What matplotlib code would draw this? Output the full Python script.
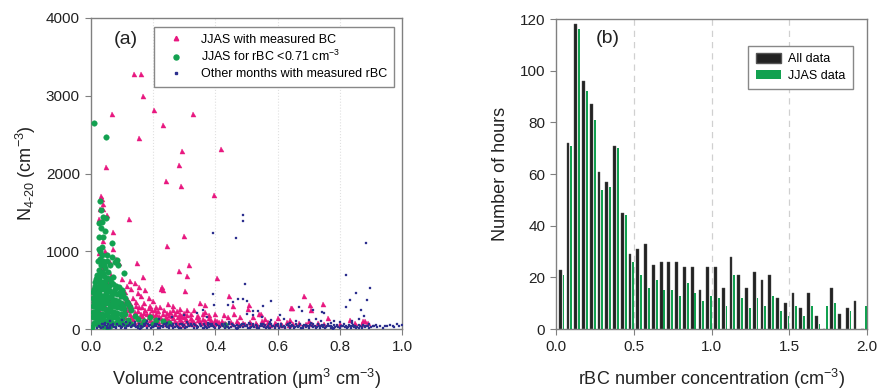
import numpy as np
import matplotlib
matplotlib.use("Agg")
import matplotlib.pyplot as plt
from matplotlib.patches import Patch
from matplotlib.lines import Line2D

plt.rcParams['font.family'] = ['Liberation Sans', 'DejaVu Sans']
plt.rcParams['mathtext.fontset'] = 'custom'
plt.rcParams['mathtext.rm'] = 'Liberation Sans'
plt.rcParams['mathtext.default'] = 'regular'

# ---- panel (a): N4-20 vs volume concentration ----
jjas_bc = [
    (0.139, 3280), (0.161, 3280), (0.166, 3000), (0.068, 2770), (0.201, 2820), (0.329, 2770),
    (0.153, 2460), (0.230, 2630), (0.293, 2290), (0.048, 2080), (0.282, 2110), (0.419, 2320),
    (0.241, 1910), (0.288, 1840), (0.394, 1730), (0.121, 1420), (0.298, 1195), (0.243, 1075),
    (0.071, 1255), (0.147, 845), (0.316, 830), (0.283, 750), (0.406, 660), (0.308, 680),
    (0.168, 665), (0.229, 545), (0.225, 520), (0.232, 500), (0.301, 485), (0.443, 430),
    (0.509, 315), (0.505, 260), (0.645, 270), (0.685, 424), (0.704, 315), (0.745, 318),
    (0.762, 142), (0.831, 120), (0.875, 100), (0.891, 75), (0.350, 335), (0.365, 305),
    (0.222, 290), (0.249, 318), (0.265, 292), (0.286, 262), (0.310, 250), (0.322, 198),
    (0.458, 300), (0.031, 1715), (0.037, 1670), (0.038, 1610), (0.028, 1540), (0.040, 1540),
    (0.050, 1465), (0.027, 1420), (0.040, 1130), (0.071, 1030), (0.027, 975), (0.045, 1000),
    (0.080, 900), (0.060, 860), (0.090, 850), (0.035, 780), (0.065, 700), (0.100, 650),
    (0.125, 620), (0.140, 590), (0.115, 560), (0.130, 520), (0.155, 540), (0.175, 500),
    (0.110, 480), (0.150, 460), (0.160, 420), (0.185, 400), (0.135, 400), (0.200, 360),
    (0.120, 380), (0.145, 350), (0.170, 330), (0.190, 300), (0.210, 280), (0.130, 300),
    (0.155, 280), (0.175, 250), (0.195, 240), (0.215, 230), (0.235, 250), (0.255, 220),
    (0.275, 230), (0.300, 210), (0.120, 240), (0.140, 220), (0.160, 200), (0.180, 190),
    (0.200, 180), (0.220, 170), (0.240, 160), (0.260, 170), (0.280, 150), (0.300, 160),
    (0.320, 140), (0.340, 150), (0.360, 130), (0.380, 140), (0.400, 120), (0.420, 110),
    (0.110, 150), (0.130, 160), (0.150, 140), (0.170, 130), (0.190, 120), (0.210, 130),
    (0.230, 110), (0.250, 120), (0.270, 100), (0.290, 110), (0.310, 100), (0.330, 90),
    (0.350, 100), (0.370, 90), (0.390, 80), (0.410, 90), (0.430, 80), (0.450, 90),
    (0.470, 100), (0.490, 80), (0.510, 90), (0.530, 80), (0.550, 100), (0.570, 90),
    (0.590, 80), (0.610, 70), (0.630, 90), (0.650, 70), (0.670, 80), (0.690, 60),
    (0.710, 70), (0.730, 80), (0.750, 60), (0.100, 100), (0.120, 90), (0.140, 80),
    (0.160, 90), (0.180, 70), (0.200, 80), (0.220, 70), (0.240, 60), (0.260, 70),
    (0.280, 60), (0.300, 50), (0.320, 60), (0.080, 200), (0.090, 300), (0.070, 400),
    (0.020, 520), (0.015, 420), (0.055, 600), (0.120, 300), (0.098, 420), (0.085, 560),
    (0.060, 350), (0.110, 250), (0.045, 300), (0.030, 150), (0.025, 250), (0.100, 200),
    (0.540, 190), (0.600, 140), (0.640, 120), (0.700, 100), (0.800, 60), (0.850, 80),
    (0.870, 70), (0.880, 110), (0.520, 150), (0.560, 130), (0.480, 160), (0.460, 200),
    (0.440, 150), (0.400, 200), (0.380, 180), (0.360, 200), (0.330, 240), (0.345, 170),
    (0.367, 219), (0.428, 177), (0.548, 189), (0.706, 244), (0.643, 274),
    (0.125, 200), (0.145, 180), (0.165, 165), (0.185, 150), (0.205, 150), (0.225, 140),
    (0.245, 135), (0.265, 140), (0.285, 125), (0.305, 130), (0.325, 115), (0.345, 120),
    (0.365, 110), (0.385, 115), (0.405, 100), (0.115, 120), (0.135, 125), (0.155, 110),
    (0.175, 100), (0.195, 95), (0.215, 100), (0.235, 90), (0.255, 95), (0.275, 80),
    (0.295, 85), (0.315, 80), (0.335, 70), (0.355, 75), (0.375, 70), (0.395, 65),
    (0.415, 70), (0.435, 60), (0.455, 65), (0.475, 60), (0.495, 65), (0.515, 60),
    (0.535, 55), (0.555, 60), (0.575, 55), (0.595, 60), (0.615, 50), (0.635, 55),
    (0.150, 230), (0.170, 210), (0.190, 200), (0.210, 195), (0.230, 200), (0.250, 185),
    (0.270, 190), (0.290, 175), (0.310, 185), (0.105, 340), (0.125, 330), (0.145, 300),
    (0.165, 290), (0.185, 270), (0.205, 250), (0.245, 210), (0.265, 250), (0.285, 200),
]

jjas_low = [
    (0.011, 2655), (0.049, 2470), (0.029, 1645), (0.032, 1530), (0.039, 1445), (0.048, 1435),
    (0.026, 1360), (0.031, 1295), (0.025, 1190), (0.068, 1110), (0.027, 1035), (0.068, 930),
    (0.083, 885), (0.088, 820), (0.106, 720), (0.072, 670), (0.030, 1000), (0.035, 950),
    (0.028, 900), (0.040, 870), (0.033, 820), (0.045, 780), (0.025, 760), (0.055, 740),
    (0.038, 720), (0.020, 700), (0.030, 690), (0.042, 680), (0.050, 660), (0.060, 650),
    (0.015, 640), (0.025, 620), (0.035, 610), (0.045, 600), (0.070, 580), (0.080, 560),
    (0.090, 540), (0.100, 500), (0.012, 560), (0.022, 540), (0.032, 520), (0.042, 510),
    (0.052, 500), (0.062, 490), (0.075, 470), (0.085, 450), (0.095, 430), (0.110, 400),
    (0.008, 480), (0.018, 460), (0.028, 440), (0.038, 430), (0.048, 420), (0.058, 410),
    (0.068, 390), (0.078, 380), (0.088, 360), (0.098, 340), (0.120, 320), (0.005, 400),
    (0.015, 380), (0.025, 360), (0.035, 350), (0.045, 340), (0.055, 330), (0.065, 310),
    (0.075, 300), (0.085, 290), (0.095, 270), (0.105, 260), (0.130, 240), (0.005, 300),
    (0.015, 290), (0.025, 280), (0.035, 270), (0.045, 260), (0.055, 250), (0.065, 230),
    (0.075, 220), (0.085, 210), (0.095, 200), (0.110, 190), (0.140, 170), (0.005, 220),
    (0.015, 210), (0.025, 200), (0.035, 190), (0.045, 180), (0.055, 170), (0.065, 160),
    (0.075, 150), (0.085, 140), (0.100, 130), (0.120, 120), (0.150, 130), (0.005, 150),
    (0.015, 140), (0.025, 130), (0.035, 120), (0.045, 110), (0.055, 100), (0.065, 90),
    (0.080, 80), (0.095, 70), (0.110, 60), (0.130, 70), (0.010, 80), (0.020, 60),
    (0.030, 50), (0.040, 40), (0.050, 30), (0.060, 45), (0.003, 30), (0.018, 100),
    (0.210, 120), (0.230, 100), (0.190, 150), (0.170, 110), (0.430, 50), (0.250, 80),
    (0.200, 60), (0.160, 50), (0.030, 580), (0.050, 560), (0.020, 400), (0.040, 390),
    (0.030, 320), (0.060, 280), (0.070, 350), (0.022, 870), (0.036, 1060), (0.044, 1260),
    (0.034, 1380), (0.040, 1180), (0.050, 950), (0.060, 820), (0.076, 860),
    (0.018, 665), (0.027, 655), (0.047, 645), (0.012, 610), (0.038, 575), (0.058, 555),
    (0.010, 520), (0.027, 495), (0.048, 470), (0.068, 455), (0.013, 435), (0.033, 405),
    (0.053, 385), (0.083, 340), (0.010, 345), (0.040, 320), (0.020, 245), (0.050, 220),
    (0.070, 195), (0.030, 165), (0.060, 130), (0.090, 110), (0.010, 180), (0.040, 150),
    (0.022, 315), (0.063, 600), (0.078, 520), (0.092, 480), (0.102, 450), (0.116, 350),
    (0.125, 280), (0.104, 300), (0.033, 740), (0.043, 820), (0.053, 880),
]

other_months = [
    (0.391, 1230), (0.487, 1462), (0.489, 1395), (0.467, 1170), (0.496, 580), (0.391, 455),
    (0.819, 700), (0.884, 1105), (0.897, 523), (0.853, 467), (0.887, 369), (0.833, 369),
    (0.819, 280), (0.869, 252), (0.876, 171), (0.578, 360), (0.554, 296), (0.474, 382),
    (0.488, 386), (0.501, 364), (0.455, 351), (0.441, 305), (0.395, 305), (0.372, 154),
    (0.522, 231), (0.538, 236), (0.606, 180), (0.667, 287), (0.677, 236), (0.714, 240),
    (0.741, 223), (0.749, 202), (0.723, 137), (0.340, 210), (0.360, 240), (0.500, 200),
    (0.520, 180), (0.550, 150), (0.580, 120), (0.620, 130), (0.660, 110), (0.700, 120),
    (0.740, 100), (0.780, 110), (0.800, 90), (0.840, 100), (0.860, 130), (0.300, 180),
    (0.260, 150), (0.220, 130), (0.180, 110), (0.140, 90), (0.100, 120), (0.060, 100),
    (0.910, 40), (0.920, 30), (0.930, 45), (0.950, 35), (0.960, 50), (0.970, 40),
    (0.985, 60), (0.990, 45), (0.998, 50), (0.940, 20), (0.975, 30),
    # dense band near the axis
    (0.020, 20), (0.025, 45), (0.030, 30), (0.035, 60), (0.040, 25), (0.045, 50),
    (0.050, 35), (0.055, 70), (0.060, 20), (0.065, 55), (0.070, 40), (0.075, 30),
    (0.080, 25), (0.085, 65), (0.090, 45), (0.095, 20), (0.100, 30), (0.105, 55),
    (0.110, 20), (0.115, 45), (0.120, 35), (0.125, 75), (0.130, 25), (0.135, 50),
    (0.140, 40), (0.145, 30), (0.150, 20), (0.155, 60), (0.160, 45), (0.165, 25),
    (0.170, 35), (0.175, 55), (0.180, 20), (0.185, 40), (0.190, 50), (0.195, 30),
    (0.200, 25), (0.205, 65), (0.210, 40), (0.215, 20), (0.220, 55), (0.225, 35),
    (0.230, 25), (0.235, 70), (0.240, 45), (0.245, 30), (0.250, 20), (0.255, 50),
    (0.260, 35), (0.265, 60), (0.270, 25), (0.275, 45), (0.280, 30), (0.285, 65),
    (0.290, 20), (0.295, 40), (0.300, 55), (0.305, 30), (0.310, 25), (0.315, 45),
    (0.320, 70), (0.325, 35), (0.330, 20), (0.335, 50), (0.340, 40), (0.345, 25),
    (0.350, 60), (0.355, 35), (0.360, 20), (0.365, 45), (0.370, 30), (0.375, 55),
    (0.380, 25), (0.385, 40), (0.390, 65), (0.395, 30), (0.400, 20), (0.405, 50),
    (0.410, 35), (0.415, 25), (0.420, 60), (0.425, 40), (0.430, 20), (0.435, 45),
    (0.440, 30), (0.445, 70), (0.450, 25), (0.455, 50), (0.460, 35), (0.465, 20),
    (0.470, 55), (0.475, 40), (0.480, 30), (0.485, 65), (0.490, 25), (0.495, 45),
    (0.500, 35), (0.505, 20), (0.510, 60), (0.515, 30), (0.520, 45), (0.525, 25),
    (0.530, 50), (0.535, 35), (0.540, 20), (0.545, 70), (0.550, 40), (0.555, 25),
    (0.560, 55), (0.565, 30), (0.570, 45), (0.575, 20), (0.580, 60), (0.585, 35),
    (0.590, 25), (0.595, 50), (0.600, 40), (0.605, 20), (0.610, 65), (0.615, 30),
    (0.620, 45), (0.625, 25), (0.630, 55), (0.635, 35), (0.640, 20), (0.645, 50),
    (0.650, 40), (0.655, 30), (0.660, 60), (0.665, 25), (0.670, 45), (0.675, 20),
    (0.680, 35), (0.685, 55), (0.690, 30), (0.695, 40), (0.700, 20), (0.705, 50),
    (0.710, 35), (0.715, 25), (0.720, 45), (0.725, 30), (0.730, 60), (0.735, 20),
    (0.740, 40), (0.745, 30), (0.750, 50), (0.755, 25), (0.760, 35), (0.765, 45),
    (0.770, 20), (0.775, 30), (0.780, 55), (0.785, 25), (0.790, 40), (0.795, 30),
    (0.800, 20), (0.805, 45), (0.810, 35), (0.815, 25), (0.820, 40), (0.825, 30),
    (0.830, 50), (0.835, 20), (0.840, 35), (0.845, 25), (0.850, 45), (0.855, 30),
    (0.860, 20), (0.865, 40), (0.870, 30), (0.875, 50), (0.880, 25), (0.885, 35),
    (0.890, 45), (0.895, 20), (0.900, 30), (0.046, 85), (0.112, 90), (0.178, 80),
    (0.244, 85), (0.310, 95), (0.376, 80), (0.442, 90), (0.508, 85), (0.574, 95),
    (0.640, 80), (0.706, 85), (0.772, 75), (0.838, 80), (0.056, 10), (0.158, 8),
    (0.262, 12), (0.364, 10), (0.468, 8), (0.572, 12), (0.676, 10), (0.778, 8),
    # second pass through the band
    (0.032, 10), (0.042, 65), (0.052, 15), (0.062, 40), (0.072, 60), (0.082, 10),
    (0.092, 35), (0.102, 70), (0.112, 15), (0.122, 55), (0.132, 40), (0.142, 65),
    (0.152, 45), (0.162, 15), (0.172, 70), (0.182, 60), (0.192, 15), (0.202, 45),
    (0.212, 60), (0.222, 15), (0.232, 45), (0.242, 65), (0.252, 35), (0.262, 50),
    (0.272, 70), (0.282, 15), (0.292, 60), (0.302, 15), (0.312, 60), (0.322, 50),
    (0.332, 65), (0.342, 15), (0.352, 45), (0.362, 65), (0.372, 15), (0.382, 60),
    (0.392, 45), (0.402, 70), (0.412, 15), (0.422, 50), (0.432, 65), (0.442, 15),
    (0.452, 60), (0.462, 45), (0.472, 15), (0.482, 50), (0.492, 65), (0.502, 55),
    (0.512, 15), (0.522, 65), (0.532, 15), (0.542, 45), (0.552, 60), (0.562, 15),
    (0.572, 65), (0.582, 45), (0.592, 15), (0.602, 60), (0.612, 45), (0.622, 15),
    (0.632, 70), (0.642, 40), (0.652, 15), (0.662, 45), (0.672, 60), (0.682, 15),
    (0.692, 55), (0.702, 40), (0.712, 60), (0.722, 15), (0.732, 40), (0.742, 55),
    (0.752, 15), (0.762, 60), (0.772, 45), (0.782, 15), (0.792, 55), (0.802, 40),
    (0.812, 60), (0.822, 15), (0.832, 35), (0.842, 50), (0.852, 15), (0.862, 55),
    (0.872, 15), (0.882, 45), (0.892, 60), (0.905, 45), (0.915, 55), (0.945, 40),
]

# ---- panel (b): histogram of rBC number concentration ----
bin_centers = [0.025, 0.075, 0.125, 0.175, 0.225, 0.275, 0.325, 0.375, 0.425, 0.475,
               0.525, 0.575, 0.625, 0.675, 0.725, 0.775, 0.825, 0.875, 0.925, 0.975,
               1.025, 1.075, 1.125, 1.175, 1.225, 1.275, 1.325, 1.375, 1.425, 1.475,
               1.525, 1.575, 1.625, 1.675, 1.725, 1.775, 1.825, 1.875, 1.925, 1.975]
all_hours = [23, 72, 118, 96, 87, 61, 57, 71, 45, 29,
             31, 33, 25, 26, 26, 26, 24, 24, 15, 24,
             24, 16, 28, 21, 16, 22, 19, 21, 12, 10,
             14, 8, 14, 5, 0, 16, 6, 8, 11, 0]
jjas_hours = [21, 71, 116, 92, 81, 54, 55, 70, 44, 26,
              21, 16, 19, 15, 15, 13, 18, 14, 11, 13,
              12, 9, 21, 12, 8, 12, 9, 13, 7, 5,
              9, 5, 9, 2, 9, 10, 0, 7, 0, 9]

PINK = '#e8177f'
GREEN = '#12a150'
NAVY = '#2c2f8e'
SPINE = '#808080'
TXT = '#222222'

fig = plt.figure(figsize=(8.79, 3.90), dpi=100)
ax1 = fig.add_axes([0.1035, 0.156, 0.354, 0.798])
ax2 = fig.add_axes([0.633, 0.156, 0.353, 0.795])

# panel a
for gx in [0.2, 0.4, 0.6, 0.8]:
    ax1.axvline(gx, color='#e0e0e0', lw=0.8, ls=':', zorder=0)
bc = np.array(jjas_bc)
lo = np.array(jjas_low)
om = np.array(other_months)
ax1.plot(bc[:, 0], bc[:, 1], ls='none', marker='^', ms=3.6, color=PINK, mec=PINK, mew=0.3, zorder=2)
ax1.plot(lo[:, 0], lo[:, 1], ls='none', marker='o', ms=4.0, color=GREEN, mec=GREEN, mew=0.3, zorder=3)
ax1.plot(om[:, 0], om[:, 1], ls='none', marker='s', ms=1.9, color=NAVY, mec=NAVY, mew=0.2, zorder=4)
ax1.set_xlim(0, 1.0)
ax1.set_ylim(0, 4000)
ax1.set_xticks([0.0, 0.2, 0.4, 0.6, 0.8, 1.0])
ax1.set_xticklabels(['0.0', '0.2', '0.4', '0.6', '0.8', '1.0'])
ax1.set_yticks([0, 1000, 2000, 3000, 4000])
ax1.set_xlabel('Volume concentration (\u03bcm$^{3}$ cm$^{-3}$)', fontsize=13, color=TXT, labelpad=9)
ax1.set_ylabel('N$_{4\u201020}$ (cm$^{-3}$)', fontsize=13, color=TXT, labelpad=6)
ax1.text(0.113, 0.932, '(a)', transform=ax1.transAxes, fontsize=14, color=TXT, ha='center', va='center')

h1 = [Line2D([], [], ls='none', marker='^', ms=3.2, color=PINK),
      Line2D([], [], ls='none', marker='o', ms=3.6, color=GREEN),
      Line2D([], [], ls='none', marker='s', ms=1.6, color=NAVY)]
leg1 = ax1.legend(h1, ['JJAS with measured BC', 'JJAS for rBC <0.71 cm$^{-3}$',
                       'Other months with measured rBC'],
                  loc='upper right', bbox_to_anchor=(0.974, 0.972), borderaxespad=0,
                  fontsize=9, frameon=True, fancybox=False, edgecolor='#888888', framealpha=1,
                  handlelength=2.4, handletextpad=0.8, labelspacing=0.3, borderpad=0.55)
leg1.get_frame().set_linewidth(1.0)

# panel b
for gx in [0.5, 1.0, 1.5]:
    ax2.axvline(gx, color='#d0d0d0', lw=0.9, ls=(0, (5, 4)), zorder=0)
xc = np.array(bin_centers)
ax2.bar(xc, all_hours, width=0.018, color='#222222', edgecolor='#555555', linewidth=0.3, zorder=2)
ax2.bar(xc + 0.021, jjas_hours, width=0.012, color=GREEN, linewidth=0, zorder=3)
ax2.set_xlim(0, 2.0)
ax2.set_ylim(0, 120)
ax2.set_xticks([0.0, 0.5, 1.0, 1.5, 2.0])
ax2.set_xticklabels(['0.0', '0.5', '1.0', '1.5', '2.0'])
ax2.set_yticks([0, 20, 40, 60, 80, 100, 120])
ax2.set_xlabel('rBC number concentration (cm$^{-3}$)', fontsize=13, color=TXT, labelpad=9)
ax2.set_ylabel('Number of hours', fontsize=13, color=TXT, labelpad=8)
ax2.text(0.166, 0.938, '(b)', transform=ax2.transAxes, fontsize=14, color=TXT, ha='center', va='center')

h2 = [Patch(facecolor='#222222', edgecolor='#555555'), Patch(facecolor=GREEN)]
leg2 = ax2.legend(h2, ['All data', 'JJAS data'], loc='upper right', bbox_to_anchor=(0.957, 0.914),
                  borderaxespad=0, fontsize=9, frameon=True, fancybox=False, edgecolor='#888888',
                  framealpha=1, handlelength=2.0, handleheight=0.8, handletextpad=0.6,
                  labelspacing=0.35, borderpad=0.6)
leg2.get_frame().set_linewidth(1.0)

for ax in (ax1, ax2):
    for s in ax.spines.values():
        s.set_color(SPINE)
        s.set_linewidth(1.0)
    ax.tick_params(direction='out', length=4, width=0.8, color=SPINE, labelsize=11,
                   labelcolor=TXT, pad=4)

fig.savefig('out.png', dpi=100)
